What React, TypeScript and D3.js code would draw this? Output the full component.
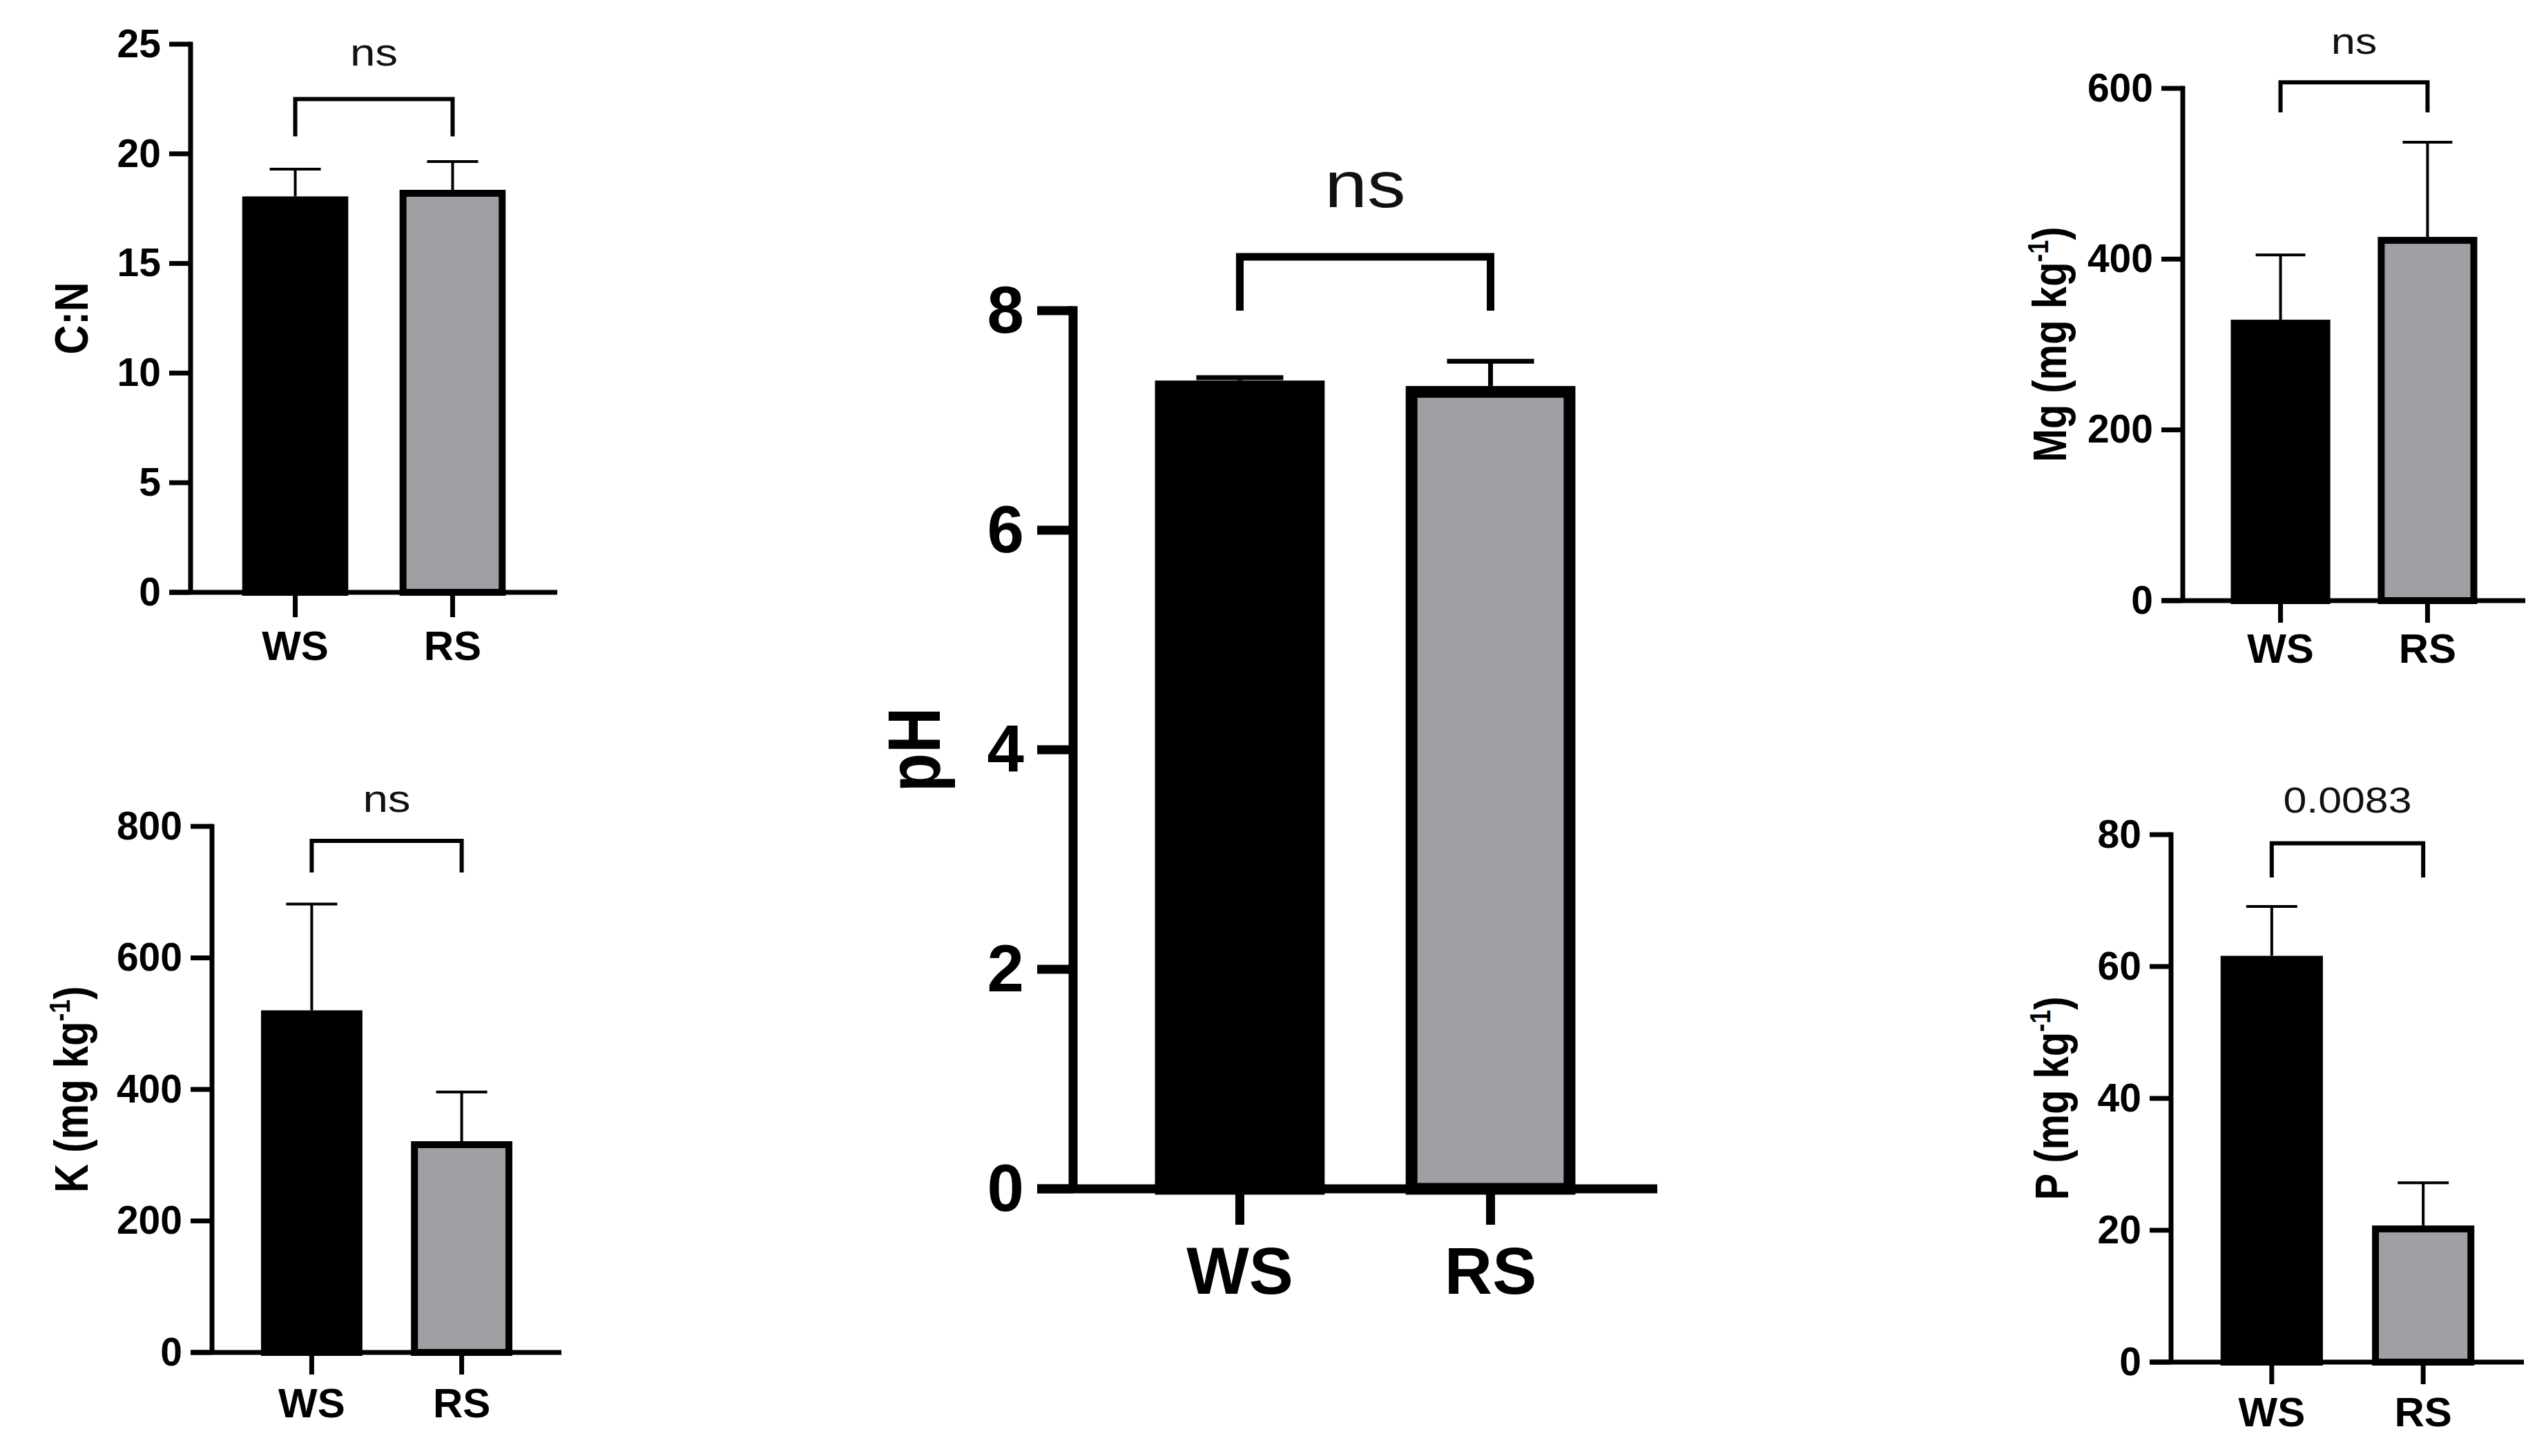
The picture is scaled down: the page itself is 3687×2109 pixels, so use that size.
import React from "react";
import * as d3 from "d3";

// ---------- data ----------
const categories = ["WS", "RS"];

const cnMeans = [17.9, 18.2];
const cnErrors = [1.4, 1.45];
const cnTicks = [0, 5, 10, 15, 20, 25];

const kMeans = [515, 316];
const kErrors = [167, 80];
const kTicks = [0, 200, 400, 600, 800];

const phMeans = [7.31, 7.26];
const phErrors = [0.08, 0.28];
const phTicks = [0, 2, 4, 6, 8];

const mgMeans = [325, 422];
const mgErrors = [80, 115];
const mgTicks = [0, 200, 400, 600];

const pMeans = [61.1, 20.2];
const pErrors = [8, 7];
const pTicks = [0, 20, 40, 60, 80];

const sigLabels = ["ns", "ns", "ns", "ns", "0.0083"];
const yTitles = ["C:N", "K", "pH", "Mg", "P"];
const yTitleUnits = [false, true, false, true, true];

const barFills = ["#000000", "#a0a0a4"];
const FONT = "'Liberation Sans', Arial, sans-serif";
const SX = 1.17; // horizontal stretch used for the thin texts of the reference

type Layout = {
  axisX: number; xEnd: number; yTop: number; yBottom: number;
  tickLen: number; tickGap: number; tickFont: number;
  catTickLen: number; catOff: number; catFont: number;
  yLabelX: number; yLabelFont: number;
  sigFont: number; sigY: number; bracketV: number; legV: number;
  axisW: number; barSW: number; errW: number; capW: number; brW: number;
};

const layouts: Layout[] = [
  { axisX: 276, xEnd: 807, yTop: 64, yBottom: 858, tickLen: 31, tickGap: 12, tickFont: 57,
    catTickLen: 36, catOff: 76, catFont: 60, yLabelX: 127, yLabelFont: 59,
    sigFont: 56, sigY: 95, bracketV: 22.5, legV: 20.8, axisW: 7, barSW: 10, errW: 4, capW: 74, brW: 6 },
  { axisX: 307, xEnd: 813, yTop: 1197, yBottom: 1959, tickLen: 31, tickGap: 12, tickFont: 57,
    catTickLen: 32, catOff: 72, catFont: 60, yLabelX: 127, yLabelFont: 58,
    sigFont: 56, sigY: 1176, bracketV: 778, legV: 730, axisW: 7, barSW: 10, errW: 4, capW: 74, brW: 6 },
  { axisX: 1554, xEnd: 2400, yTop: 450, yBottom: 1722, tickLen: 52, tickGap: 19, tickFont: 96,
    catTickLen: 52, catOff: 117, catFont: 96, yLabelX: 1361, yLabelFont: 92,
    sigFont: 95, sigY: 300, bracketV: 8.49, legV: 8.0, axisW: 13, barSW: 17, errW: 7, capW: 126, brW: 11 },
  { axisX: 3161, xEnd: 3657, yTop: 128, yBottom: 870, tickLen: 31, tickGap: 12, tickFont: 57,
    catTickLen: 32, catOff: 68, catFont: 60, yLabelX: 2992, yLabelFont: 58,
    sigFont: 54, sigY: 78, bracketV: 607, legV: 572, axisW: 7, barSW: 10, errW: 4, capW: 72, brW: 6 },
  { axisX: 3144, xEnd: 3655, yTop: 1209, yBottom: 1973, tickLen: 31, tickGap: 12, tickFont: 57,
    catTickLen: 32, catOff: 71, catFont: 60, yLabelX: 2995, yLabelFont: 58,
    sigFont: 52, sigY: 1177, bracketV: 78.7, legV: 73.5, axisW: 7, barSW: 10, errW: 4, capW: 74, brW: 6 },
];

const panelData = [
  { means: cnMeans, errors: cnErrors, ticks: cnTicks },
  { means: kMeans, errors: kErrors, ticks: kTicks },
  { means: phMeans, errors: phErrors, ticks: phTicks },
  { means: mgMeans, errors: mgErrors, ticks: mgTicks },
  { means: pMeans, errors: pErrors, ticks: pTicks },
];

function Panel({ idx }: { idx: number }) {
  const L = layouts[idx];
  const D = panelData[idx];
  const yMax = D.ticks[D.ticks.length - 1];
  const y = d3.scaleLinear().domain([0, yMax]).range([L.yBottom, L.yTop]);
  const x = d3.scalePoint<string>().domain(categories).range([L.axisX, L.xEnd]).padding(0.665);
  const step = x.step();
  const bw = step * 0.63;
  const cx = (c: string) => x(c) as number;
  const t = yTitles[idx];
  const unit = yTitleUnits[idx];
  const yMid = (L.yTop + L.yBottom) / 2;

  return (
    <g>
      {/* bars */}
      {categories.map((c, i) => (
        <rect key={c} x={cx(c) - bw / 2} y={y(D.means[i])} width={bw}
          height={y(0) - y(D.means[i])} fill={barFills[i]} stroke="#000" strokeWidth={L.barSW} />
      ))}
      {/* error bars */}
      {categories.map((c, i) => {
        const top = y(D.means[i] + D.errors[i]);
        return (
          <g key={c} stroke="#000" strokeWidth={L.errW}>
            <line x1={cx(c)} x2={cx(c)} y1={y(D.means[i]) - L.barSW / 2} y2={top} />
            <line x1={cx(c) - L.capW / 2} x2={cx(c) + L.capW / 2} y1={top} y2={top} />
          </g>
        );
      })}
      {/* axes */}
      <g stroke="#000" strokeWidth={L.axisW} strokeLinecap="butt">
        <line x1={L.axisX} x2={L.axisX} y1={y(yMax) - L.axisW / 2} y2={y(0)} />
        <line x1={L.axisX - L.tickLen} x2={L.xEnd} y1={y(0)} y2={y(0)} />
        {D.ticks.map((v) => (
          <line key={v} x1={L.axisX - L.tickLen} x2={L.axisX} y1={y(v)} y2={y(v)} />
        ))}
        {categories.map((c) => (
          <line key={c} x1={cx(c)} x2={cx(c)} y1={y(0)} y2={y(0) + L.catTickLen} />
        ))}
      </g>
      {D.ticks.map((v) => (
        <text key={v} x={L.axisX - L.tickLen - L.tickGap} y={y(v) + L.tickFont * 0.33}
          textAnchor="end" fontFamily={FONT} fontWeight="bold" fontSize={L.tickFont}>{v}</text>
      ))}
      {categories.map((c) => (
        <text key={c} x={cx(c)} y={y(0) + L.catOff + L.catFont * 0.36}
          textAnchor="middle" fontFamily={FONT} fontWeight="bold" fontSize={L.catFont}>{c}</text>
      ))}
      {/* y title */}
      <text transform={`translate(${L.yLabelX},${yMid}) scale(${SX},1) rotate(-90)`}
        textAnchor="middle" fontFamily={FONT} fontWeight="bold" fontSize={L.yLabelFont}>
        {unit ? (
          <>
            {t + " (mg kg"}
            <tspan dy={-L.yLabelFont * 0.38} fontSize={L.yLabelFont * 0.62}>-1</tspan>
            <tspan dy={L.yLabelFont * 0.38}>)</tspan>
          </>
        ) : t}
      </text>
      {/* significance bracket */}
      <path
        d={`M${cx(categories[0])},${y(L.legV)} V${y(L.bracketV)} H${cx(categories[1])} V${y(L.legV)}`}
        fill="none" stroke="#000" strokeWidth={L.brW} />
      <text transform={`translate(${(cx(categories[0]) + cx(categories[1])) / 2},${L.sigY}) scale(${SX},1)`}
        textAnchor="middle" fontFamily={FONT} fontSize={L.sigFont} fill="#111">{sigLabels[idx]}</text>
    </g>
  );
}

export default function App() {
  return (
    <svg width={3687} height={2109} viewBox="0 0 3687 2109"
      style={{ position: "absolute", left: 0, top: 0, background: "#fff" }}>
      <rect x={0} y={0} width={3687} height={2109} fill="#fff" />
      {layouts.map((_, i) => <Panel key={i} idx={i} />)}
    </svg>
  );
}
